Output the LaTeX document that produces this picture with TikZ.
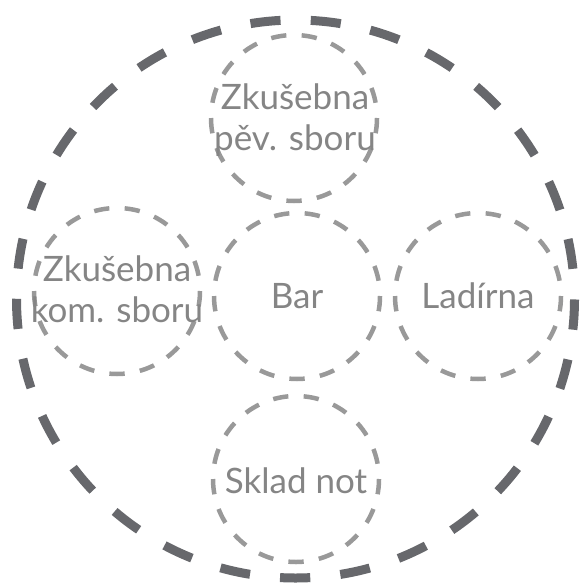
\documentclass[tikz,border=0pt]{standalone}
\usepackage{fontspec}
\setmainfont{Lato}
\definecolor{bigc}{HTML}{67686C}
\definecolor{smallc}{HTML}{999999}
\definecolor{txt}{HTML}{858585}
\begin{document}
\begin{tikzpicture}[x=1pt,y=-1pt,
  bigring/.style={circle,draw=bigc,line width=9pt,minimum size=558pt,inner sep=0pt,
    dash pattern=on 30.22pt off 30.22pt,dash phase=30.22pt},
  room/.style={circle,draw=smallc,line width=4.5pt,minimum size=166pt,inner sep=0pt,
    dash pattern=on 15.34pt off 15.34pt},
  lbl/.style={text=txt,font=\fontsize{35}{41}\selectfont,align=center,inner sep=0pt,anchor=base}]
\useasboundingbox (0,0) rectangle (581,585);
\node[bigring] (outer) at (295.5,299) {};
\node[room,dash phase=15.34pt] (top) at (294,118) {};
\node[room,dash phase=15.34pt] (left) at (117,291) {};
\node[room,dash phase=15.34pt] (mid) at (297,296) {};
\node[room,dash phase=15.34pt] (right) at (478,296) {};
\node[room,dash phase=15.34pt] (bottom) at (296,479) {};
\node[lbl] (ttop) at (295,151) {Zkušebna\\pěv. sboru};
\node[lbl] (tleft) at (117,322) {Zkušebna\\kom. sboru};
\node[lbl] (tmid) at (297,308) {Bar};
\node[lbl] (tright) at (478,308) {Ladírna};
\node[lbl] (tbottom) at (296,493) {Sklad not};
\end{tikzpicture}
\end{document}
